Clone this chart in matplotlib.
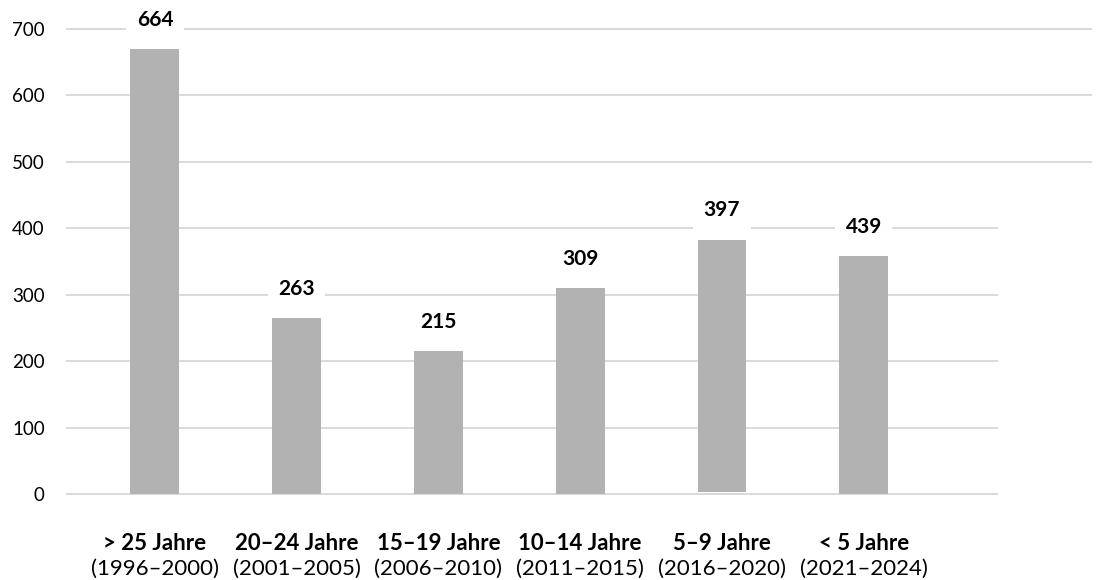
import matplotlib.pyplot as plt
import numpy as np

# age groups (bold line) and year ranges (second line)
groups = ["> 25 Jahre", "20–24 Jahre", "15–19 Jahre", "10–14 Jahre", "5–9 Jahre", "< 5 Jahre"]
years = ["(1996–2000)", "(2001–2005)", "(2006–2010)", "(2011–2015)", "(2016–2020)", "(2021–2024)"]
# printed numbers above the bars
labels = [664, 263, 215, 309, 397, 439]
# bar heights as drawn in the picture (they don't all match the printed numbers)
heights = [670, 265, 215, 310, 383, 358]
bar_base = [0, 0, 0, 0, 3, 0]

yticks = [0, 100, 200, 300, 400, 500, 600, 700]

plt.rcParams['font.family'] = ['Lato', 'DejaVu Sans']

fig = plt.figure(figsize=(10.96, 5.8), dpi=100)
ax = fig.add_axes([67 / 1096, 86 / 580, 930 / 1096, 465 / 580])

x = np.arange(len(groups))
grid_c = "#d9d9d9"

# gridlines; the upper three run on to the right edge of the picture
for t in yticks:
    x_end = 6.6 if t >= 500 else 5.94
    ax.plot([-0.62, x_end], [t, t], color=grid_c, lw=1.4, clip_on=False, zorder=1)

bar_h = [h - b for h, b in zip(heights, bar_base)]
ax.bar(x, bar_h, bottom=bar_base, width=0.345, color="#b2b2b2", zorder=2)

for xi, h, lab in zip(x, heights, labels):
    ax.annotate(str(lab), (xi, h), xytext=(0, 21), textcoords="offset points",
                ha="center", va="center", fontsize=15, fontweight="bold",
                bbox=dict(boxstyle="square,pad=0.5", fc="white", ec="none"),
                zorder=3, annotation_clip=False)

for xi, g, yr in zip(x, groups, years):
    ax.annotate(g, (xi, 0), xycoords=("data", "axes fraction"), xytext=(0, -36),
                textcoords="offset points", ha="center", va="center",
                fontsize=16, fontweight="bold")
    ax.annotate(yr, (xi, 0), xycoords=("data", "axes fraction"), xytext=(0, -54),
                textcoords="offset points", ha="center", va="center", fontsize=16)

ax.set_xlim(-0.62, 5.94)
ax.set_ylim(0, 700)
ax.set_xticks([])
ax.set_yticks(yticks)
ax.set_yticklabels([str(t) for t in yticks], fontsize=13.5)
ax.tick_params(axis="y", length=0, pad=16)
for s in ax.spines.values():
    s.set_visible(False)

fig.savefig("out.png", dpi=100)
